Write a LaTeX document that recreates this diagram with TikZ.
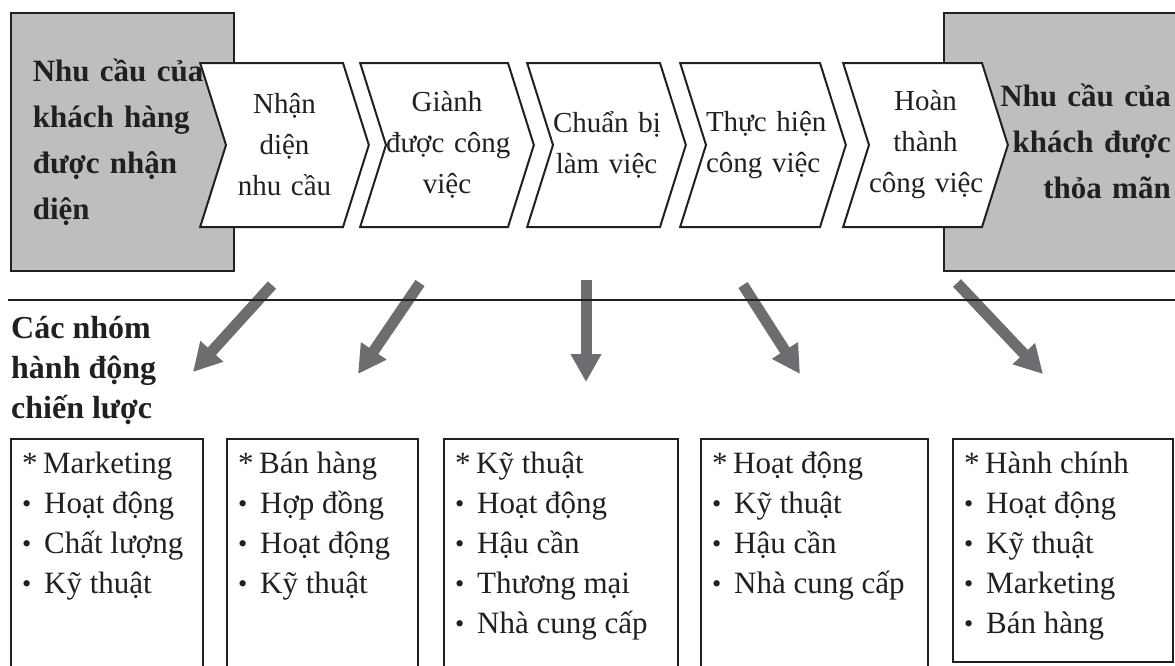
\documentclass[tikz,border=0pt]{standalone}
\usepackage{fontspec}
\setmainfont{Liberation Serif}
\usetikzlibrary{positioning, arrows.meta, shapes.symbols}

\definecolor{panelgray}{RGB}{189,190,192}
\definecolor{arrowgray}{RGB}{108,109,112}
\definecolor{ink}{RGB}{35,31,32}

% heading and bullet of the group lists
\newcommand{\hd}{\rule{0pt}{28pt}\makebox[21pt][l]{*}}
\newcommand{\itm}{\makebox[22pt][l]{\raisebox{1pt}{\scalebox{0.85}{•}}}}

\begin{document}
\begin{tikzpicture}[
    x=1pt, y=-1pt,
    every node/.style={text=ink},
    need/.style={rectangle, draw=ink, line width=1.6pt, fill=panelgray, minimum height=258pt, inner ysep=0pt, anchor=north west, font=\fontsize{31}{46}\selectfont\bfseries},
    stage/.style={signal, signal from=west, signal to=east, signal pointer angle=145, draw=ink, line width=2pt, fill=white, minimum height=164pt, inner sep=0pt, align=center, font=\fontsize{29}{41}\selectfont},
    group/.style={rectangle, draw=ink, line width=1.6pt, anchor=north west, inner sep=0pt},
    items/.style={inner sep=0pt, align=left, font=\fontsize{31}{40}\selectfont},
    arrow/.style={draw=arrowgray, line width=11pt, -{Triangle[width=29pt, length=28pt]}}
]
\useasboundingbox (0,0) rectangle (1175,665);
\clip (0,0) rectangle (1175,665);

% customer need, before and after
\node[need, minimum width=223pt, text width=179pt, inner xsep=22pt, align=left] (start) at (10,12) {Nhu cầu của\\khách hàng\\được nhận\\diện};
\node[need, text width=202pt, inner xsep=25pt, align=right] (goal) at (943,12) {Nhu cầu của\\khách được\\thỏa mãn};

% process steps
\node[stage, text width=117pt] (s1) at (284.5,145) {Nhận\\diện\\nhu~cầu};
\node[stage, text width=122pt] (s2) at (447,145) {Giành\\được~công\\việc};
\node[stage, text width=107pt] (s3) at (606.5,145) {Chuẩn~bị\\làm~việc};
\node[stage, text width=114pt] (s4) at (763,145) {Thực~hiện\\công~việc};
\node[stage, text width=113pt] (s5) at (925.5,145) {Hoàn\\thành\\công~việc};

% arrows down to the groups
\foreach \i/\tx/\ty/\hx/\hy in {1/272/285/193/372, 2/420/283/358/374, 3/586/280/586/382, 4/743/285/800/374, 5/957/283/1043/374} {
  \coordinate (a\i) at (\tx,\ty);
  \coordinate (b\i) at (\hx,\hy);
  \draw[arrow] (a\i) -- (b\i);
}
\draw[ink, line width=1.6pt] (8,300) -- (1175,300);

\node[anchor=north west, inner sep=0pt, align=left, font=\fontsize{32}{40}\selectfont\bfseries] (title) at (11,312) {\rule{0pt}{26pt}Các nhóm\\hành động\\chiến lược};

% action groups
\node[group, minimum width=192pt, minimum height=242pt] (g1) at (10,438) {};
\node[group, minimum width=191pt, minimum height=242pt] (g2) at (226,438) {};
\node[group, minimum width=234pt, minimum height=242pt] (g3) at (443,438) {};
\node[group, minimum width=227pt, minimum height=242pt] (g4) at (700,438) {};
\node[group, minimum width=220pt, minimum height=223pt] (g5) at (952,438) {};

\node[items, below right=7pt and 12pt of g1.north west] (l1) {\hd Marketing\\\itm Hoạt động\\\itm Chất lượng\\\itm Kỹ thuật};
\node[items, below right=7pt and 12pt of g2.north west] (l2) {\hd Bán hàng\\\itm Hợp đồng\\\itm Hoạt động\\\itm Kỹ thuật};
\node[items, below right=7pt and 12pt of g3.north west] (l3) {\hd Kỹ thuật\\\itm Hoạt động\\\itm Hậu cần\\\itm Thương mại\\\itm Nhà cung cấp};
\node[items, below right=7pt and 12pt of g4.north west] (l4) {\hd Hoạt động\\\itm Kỹ thuật\\\itm Hậu cần\\\itm Nhà cung cấp};
\node[items, below right=7pt and 12pt of g5.north west] (l5) {\hd Hành chính\\\itm Hoạt động\\\itm Kỹ thuật\\\itm Marketing\\\itm Bán hàng};
\end{tikzpicture}
\end{document}
